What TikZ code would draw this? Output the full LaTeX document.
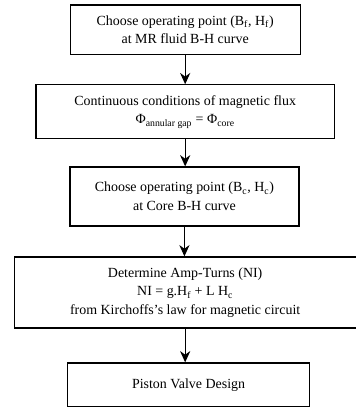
\documentclass[tikz,border=0pt]{standalone}
\usepackage{fontspec}
\setmainfont{Liberation Serif}
\usetikzlibrary{arrows.meta,positioning}

\begin{document}
\begin{tikzpicture}[
  x=1cm,y=1cm,>={Stealth[length=3mm,width=2.7mm]},
  stepbox/.style={draw,line width=0.9pt,fill=white,align=center,
    font=\fontsize{10.5}{14}\selectfont,inner sep=2pt},
  flow/.style={->,line width=0.8pt}
]
\useasboundingbox (0,0) rectangle (9.42,-10.77);
\node[stepbox,minimum width=6.09cm,minimum height=1.32cm] (opf) at (4.90,-0.79)
  {Choose operating point (B\textsubscript{f}, H\textsubscript{f})\\at MR fluid B-H curve};
\node[stepbox,minimum width=7.89cm,minimum height=1.43cm] (flux) at (4.90,-2.96)
  {Continuous conditions of magnetic flux\\Φ\textsubscript{annular gap} = Φ\textsubscript{core}};
\node[stepbox,minimum width=6.06cm,minimum height=1.56cm] (opc) at (4.88,-5.20)
  {Choose operating point (B\textsubscript{c}, H\textsubscript{c})\\at Core B-H curve};
\node[stepbox,minimum width=9.05cm,minimum height=1.88cm] (ni) at (4.90,-7.74)
  {Determine Amp-Turns (NI)\\NI = g.H\textsubscript{f} + L H\textsubscript{c}\\from Kirchoffs's law for magnetic circuit};
\node[stepbox,minimum width=6.40cm,minimum height=1.15cm] (piston) at (4.99,-10.18)
  {Piston Valve Design};
\draw[flow] (opf.south) -- (opf.south |- flux.north);
\draw[flow] (flux.south) -- (flux.south |- opc.north);
\draw[flow] (opc.south) -- (opc.south |- ni.north);
\draw[flow] (ni.south) -- (ni.south |- piston.north);
\end{tikzpicture}
\end{document}
